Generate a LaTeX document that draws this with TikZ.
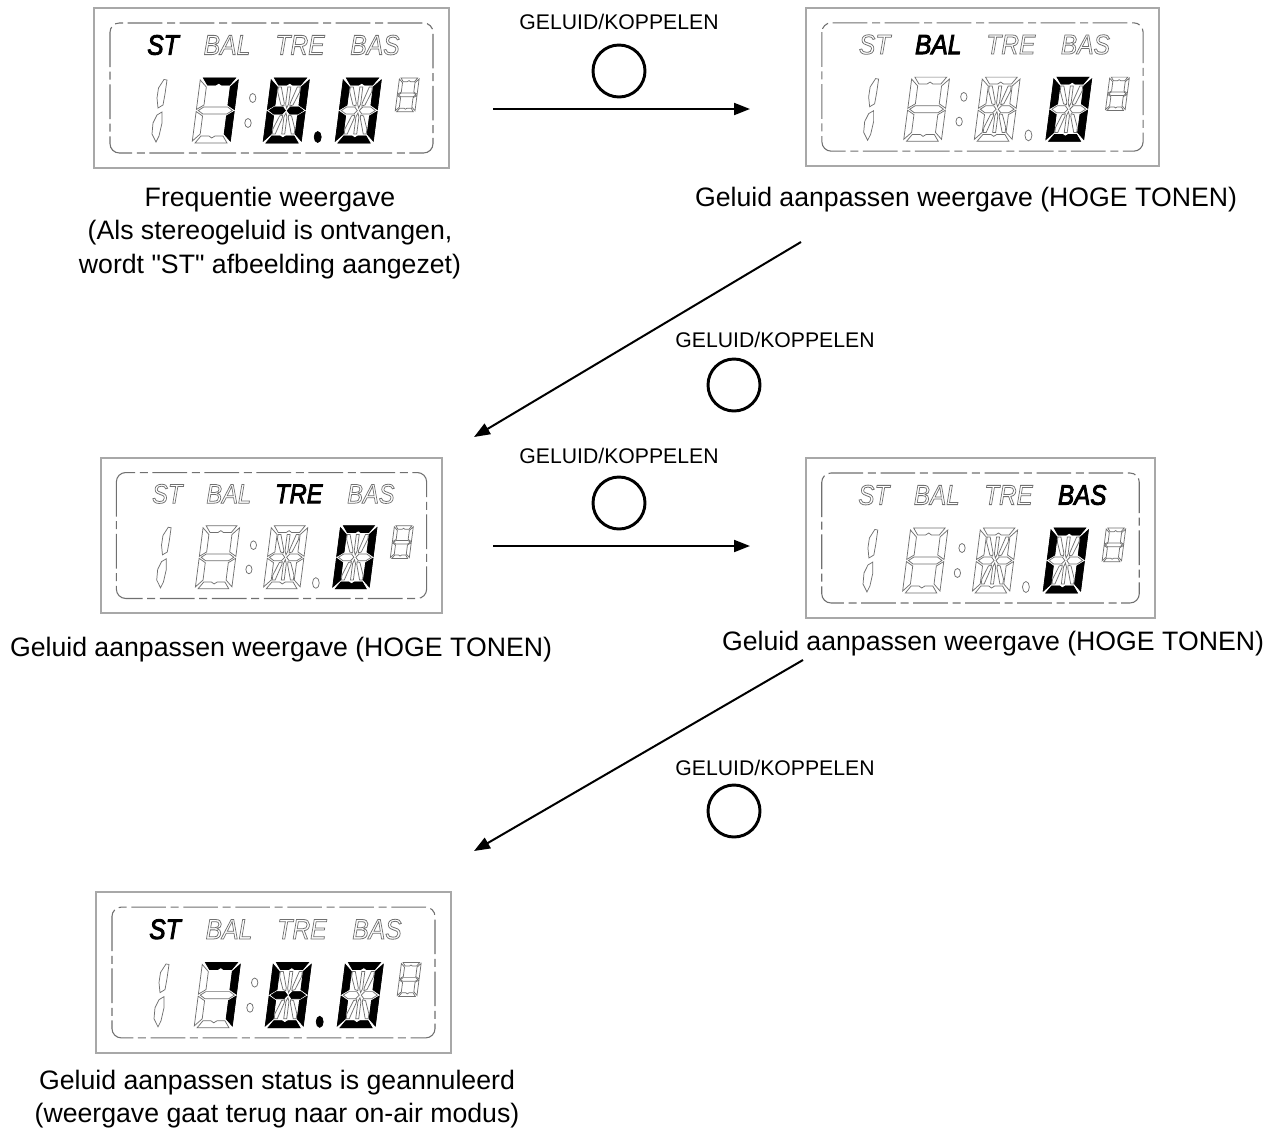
\documentclass[tikz,border=0pt]{standalone}
\usepackage{fontspec}
\setmainfont{Liberation Sans}
\newfontfamily\plainfont{Liberation Sans}
\usetikzlibrary{arrows.meta}
\definecolor{lcdgray}{HTML}{707070}
\definecolor{boxgray}{HTML}{A8A8A8}
% outlined and heavy text
\newcommand{\lcdoutline}[1]{\special{pdf:code 1 Tr 0.6 w}#1\special{pdf:code 0 Tr}}
\newcommand{\lcdheavy}[1]{\special{pdf:code 2 Tr 0.7 w}#1\special{pdf:code 0 Tr}}
\tikzset{
  mainlabel/.style={font=\fontsize{20pt}{25pt}\selectfont\plainfont,align=center,inner sep=0pt,text=black},
  keylabel/.style={font=\fontsize{15.9pt}{17pt}\selectfont,inner sep=0pt,text=black},
  keybtn/.style={circle,draw=black,line width=2.2pt,minimum size=39pt,inner sep=0pt},
  flow/.style={draw=black,line width=1.5pt,-{Triangle[length=12pt,width=9pt]}},
  panelbox/.style={draw=boxgray,line width=1.3pt,fill=white},
  paneledge/.style={draw=lcdgray,line width=.8pt,rounded corners=7pt,dash pattern=on 26pt off 3.5pt on 6pt off 3.5pt},
  segoff/.style={draw=lcdgray,line width=.55pt,fill=white},
  segon/.style={draw=black,line width=.55pt,fill=black},
  lcdword/.style={font=\fontsize{21pt}{21pt}\selectfont\itshape,inner sep=0pt,xscale=.88,transform shape},
}
% segments in digit coordinates (38 wide, 65 high)
\def\lcdseg{(0,0)}
\def\lcdsegT{(3,0)--(35,0)--(30,7)--(22,7)--(19,5)--(16,7)--(8,7)--cycle}
\def\lcdsegB{(3,65)--(35,65)--(30,58)--(22,58)--(19,60)--(16,58)--(8,58)--cycle}
\def\lcdsegUL{(0,2)--(7,9)--(7,27)--(0,31.5)--cycle}
\def\lcdsegLL{(0,33.5)--(7,38)--(7,56)--(0,63)--cycle}
\def\lcdsegUR{(38,2)--(31,9)--(31,27)--(38,31.5)--cycle}
\def\lcdsegLR{(38,33.5)--(31,38)--(31,56)--(38,63)--cycle}
\def\lcdsegM{(2,32.5)--(7,29)--(31,29)--(36,32.5)--(31,36)--(7,36)--cycle}
\def\lcdsegML{(2,32.5)--(7,29)--(15,29)--(18,32.5)--(15,36)--(7,36)--cycle}
\def\lcdsegMR{(36,32.5)--(31,29)--(23,29)--(20,32.5)--(23,36)--(31,36)--cycle}
\def\lcdsegCU{(17.5,9)--(20.5,9)--(20.5,26)--(19,30)--(17.5,26)--cycle}
\def\lcdsegCL{(17.5,56)--(20.5,56)--(20.5,39)--(19,35)--(17.5,39)--cycle}
\def\lcdsegDA{(8,9)--(11,9)--(16,25)--(16,28)--(13,27)--(8,14)--cycle}
\def\lcdsegDB{(30,9)--(27,9)--(22,25)--(22,28)--(25,27)--(30,14)--cycle}
\def\lcdsegDC{(8,56)--(11,56)--(16,40)--(16,37)--(13,38)--(8,51)--cycle}
\def\lcdsegDD{(30,56)--(27,56)--(22,40)--(22,37)--(25,38)--(30,51)--cycle}
% \lcdseven{x}{y}{scale}{on}
\newcommand{\lcdseven}[4]{%
  \begin{scope}[shift={(#1,#2)},scale=#3,xslant=.13]
    \foreach \s in {T,B,UL,LL,UR,LR,M}{\draw[segoff] \csname lcdseg\s\endcsname;}
    \foreach \s in {#4}{\draw[segon] \csname lcdseg\s\endcsname;}
  \end{scope}}
% \lcdfourteen{x}{y}{on}
\newcommand{\lcdfourteen}[3]{%
  \begin{scope}[shift={(#1,#2)},xslant=.13]
    \foreach \s in {T,B,UL,LL,UR,LR,ML,MR,CU,CL,DA,DB,DC,DD}{\draw[segoff] \csname lcdseg\s\endcsname;}
    \foreach \s in {#3}{\draw[segon] \csname lcdseg\s\endcsname;}
  \end{scope}}
% \lcdword{name}{text}{lit}{code}{x}
\newcommand{\lcdword}[5]{%
  \node[lcdword] (#1) at (#5,37) {\ifnum#3=#4\relax\color{black}\lcdheavy{#2}\else\color{lcdgray}\lcdoutline{#2}\fi};}
% \lcdpanel{name}{x}{y}{w}{h}{lit word: 1..4}{tens}{units}{dot style}
\newcommand{\lcdpanel}[9]{%
  \begin{scope}[shift={(#2,#3)},xscale=#4/355,yscale=#5/160]
    \draw[panelbox] (0,0) rectangle (355,160);
    \draw[paneledge] (16,15) rectangle (339,145);
    \lcdword{#1a}{ST}{#6}{1}{69}
    \lcdword{#1b}{BAL}{#6}{2}{133}
    \lcdword{#1c}{TRE}{#6}{3}{206}
    \lcdword{#1d}{BAS}{#6}{4}{281}
    \draw[segoff] (64.5,80)--(70,71.5)--(73,72)--(71,86)--(69,97)--(64,100)--(63,90)--cycle;
    \draw[segoff] (59,115)--(63,107)--(68,104)--(68,115)--(65,128)--(62,134)--(58,126)--cycle;
    \lcdseven{106.5}{70}{1}{#7}
    \draw[segoff] (158.7,90) ellipse (3.2 and 4.5);
    \draw[segoff] (154,115) ellipse (3.2 and 4.5);
    \lcdfourteen{177.5}{70}{#8}
    \draw[#9] (223.7,129) ellipse (3.5 and 5.5);
    \lcdfourteen{249.5}{70}{T,B,UL,LL,UR,LR}
    \lcdseven{305.5}{70}{.52}{}
  \end{scope}}
\begin{document}
\begin{tikzpicture}[x=.75pt,y=-.75pt]
\useasboundingbox (0,0) rectangle (1275,1128);

\lcdpanel{pa}{94}{8}{355}{160}{1}{T,UR,LR}{T,B,UL,LL,UR,LR,ML,MR}{segon}
\lcdpanel{pb}{806}{8}{353}{158}{2}{}{}{segoff}
\lcdpanel{pc}{101}{458}{341}{155}{3}{}{}{segoff}
\lcdpanel{pd}{806}{458}{349}{160}{4}{}{}{segoff}
\lcdpanel{pe}{96}{892}{355}{161}{1}{T,UR,LR}{T,B,UL,LL,UR,LR,ML,MR}{segon}

\node[mainlabel] (ta) at (270,233) {Frequentie weergave\\(Als stereogeluid is ontvangen,\\wordt "ST" afbeelding aangezet)};
\node[mainlabel] (tb) at (966,200) {Geluid aanpassen weergave (HOGE TONEN)};
\node[mainlabel] (tc) at (281,650) {Geluid aanpassen weergave (HOGE TONEN)};
\node[mainlabel] (td) at (993,644) {Geluid aanpassen weergave (HOGE TONEN)};
\node[mainlabel] (te) at (277,1099) {Geluid aanpassen status is geannuleerd\\(weergave gaat terug naar on-air modus)};

\node[keylabel] (ka) at (619,22) {GELUID/KOPPELEN};
\node[keylabel] (kb) at (775,340) {GELUID/KOPPELEN};
\node[keylabel] (kc) at (619,456) {GELUID/KOPPELEN};
\node[keylabel] (kd) at (775,768) {GELUID/KOPPELEN};
\node[keybtn] (ba) at (619,71) {};
\node[keybtn] (bb) at (734,385) {};
\node[keybtn] (bc) at (619,503) {};
\node[keybtn] (bd) at (734,811) {};

\coordinate (a1) at (493,109); \coordinate (a2) at (750,109);
\coordinate (b1) at (801,242); \coordinate (b2) at (474,437);
\coordinate (c1) at (493,546); \coordinate (c2) at (750,546);
\coordinate (d1) at (803,660); \coordinate (d2) at (474,851);
\draw[flow] (a1) -- (a2);
\draw[flow] (b1) -- (b2);
\draw[flow] (c1) -- (c2);
\draw[flow] (d1) -- (d2);
\end{tikzpicture}
\end{document}
